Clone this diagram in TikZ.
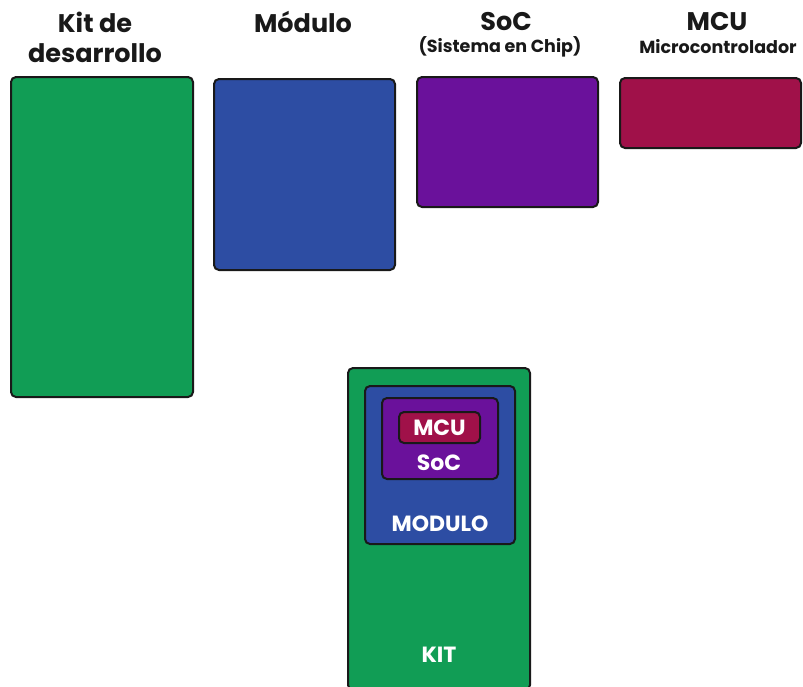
\documentclass[tikz,border=0pt]{standalone}
\usepackage{fontspec}
\setmainfont{Poppins}
\definecolor{kitgreen}{HTML}{119D55}
\definecolor{modblue}{HTML}{2D4DA3}
\definecolor{socpurple}{HTML}{6A119B}
\definecolor{mcured}{HTML}{A01149}
\begin{document}
\begin{tikzpicture}[x=1pt,y=-1pt,
  box/.style={draw=black!90, line width=2pt, rounded corners=5pt, anchor=north west, inner sep=0pt},
  title/.style={font=\fontsize{25.5}{30}\selectfont\bfseries, align=center, text=black!90},
  subtitle/.style={font=\fontsize{17.5}{20}\selectfont\bfseries, text=black!90},
  inlabel/.style={font=\fontsize{22}{24}\selectfont\bfseries, text=white}]
\useasboundingbox (0,0) rectangle (803,686);
% top row
\node[box, fill=kitgreen, minimum width=182pt, minimum height=320pt] (kit) at (10,76) {};
\node[box, fill=modblue, minimum width=181pt, minimum height=191pt] (mod) at (213,78) {};
\node[box, fill=socpurple, minimum width=181pt, minimum height=130pt] (soc) at (416,76) {};
\node[box, fill=mcured, minimum width=181pt, minimum height=70pt] (mcu) at (619,77) {};
% titles
\node[title] (tkit) at (95,37) {Kit de\\desarrollo};
\node[title] (tmod) at (303,22) {Módulo};
\node[title] (tsoc) at (506,22) {SoC};
\node[subtitle] (ssoc) at (500,47) {(Sistema en Chip)};
\node[title] (tmcu) at (717,22) {MCU};
\node[subtitle] (smcu) at (718,47) {Microcontrolador};
% nested
\node[box, fill=kitgreen, minimum width=182pt, minimum height=322pt] (nkit) at (347,367) {};
\node[box, fill=modblue, minimum width=150pt, minimum height=158pt] (nmod) at (364,385) {};
\node[box, fill=socpurple, minimum width=116pt, minimum height=81pt] (nsoc) at (381,397) {};
\node[box, fill=mcured, minimum width=81pt, minimum height=31pt] (nmcu) at (398,411) {};
\node[inlabel] (lmcu) at (nmcu.center) {MCU};
\node[inlabel] (lsoc) at (439,463) {SoC};
\node[inlabel] (lmod) at (440,524) {MODULO};
\node[inlabel] (lkit) at (439,655) {KIT};
\end{tikzpicture}
\end{document}
